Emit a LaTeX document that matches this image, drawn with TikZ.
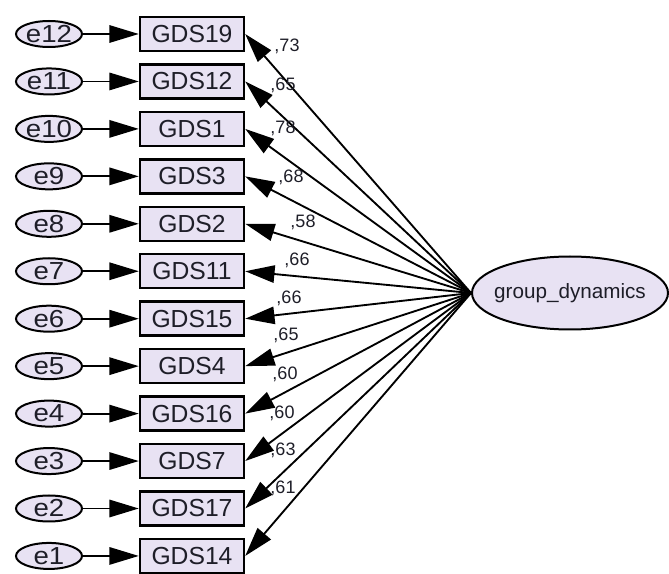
\documentclass[tikz,border=0pt]{standalone}
\usepackage{fontspec}
\usepackage{graphicx}
\setmainfont{Liberation Sans}
\usetikzlibrary{arrows.meta,shapes.geometric}
\definecolor{boxfill}{RGB}{232,226,243}
\definecolor{ink}{RGB}{30,30,40}
\tikzset{
  item/.style={draw, line width=1.8pt, fill=boxfill, text=ink, minimum width=78pt, minimum height=25.5pt, inner sep=0pt, font=\fontsize{18.5}{18.5}\selectfont},
  err/.style={ellipse, draw, line width=1.5pt, fill=boxfill, text=ink, minimum width=49.5pt, minimum height=19.5pt, inner xsep=-8pt, inner ysep=-1pt, font=\fontsize{18.5}{18.5}\selectfont},
  factor/.style={ellipse, draw, line width=1.5pt, fill=boxfill, text=ink, minimum width=147pt, minimum height=54.75pt, inner xsep=-5pt, inner ysep=0pt, font=\fontsize{15.5}{15.5}\selectfont},
  weight/.style={text=ink, inner sep=0pt, font=\fontsize{13.5}{13.5}\selectfont},
  load/.style={-{Triangle[length=22pt,width=13pt]}, line width=1.4pt},
}
\begin{document}
\begin{tikzpicture}[x=0.75pt,y=-0.75pt]
\useasboundingbox (0,0) rectangle (669,574);
% indicators with their error terms
\foreach \n/\t [count=\i from 0] in {e12/GDS19,e11/GDS12,e10/GDS1,e9/GDS3,e8/GDS2,e7/GDS11,e6/GDS15,e5/GDS4,e4/GDS16,e3/GDS7,e2/GDS17,e1/GDS14} {
  \node[err] (\n) at (49,{34+47.45*\i}) {\scalebox{1.12}[1]{\n}};
  \node[item] (\t) at (192,{34+47.45*\i}) {\t};
  \draw[load] (\n) -- (\t);
}
% latent factor
\node[factor] (gd) at (570,293) {group\_dynamics};
\foreach \t/\w/\x/\y in {GDS19/73/287/46,GDS12/65/283/85,GDS1/78/283/128,GDS3/68/291/177,GDS2/58/303/222,GDS11/66/297/260,GDS15/66/289/298,GDS4/65/286/335,GDS16/60/285/374,GDS7/60/282/413,GDS17/63/283/450,GDS14/61/283/488} {
  \draw[load] (gd.west) -- (\t.east);
  \node[weight] (w\t) at (\x,\y) {,\w};
}
\end{tikzpicture}
\end{document}
